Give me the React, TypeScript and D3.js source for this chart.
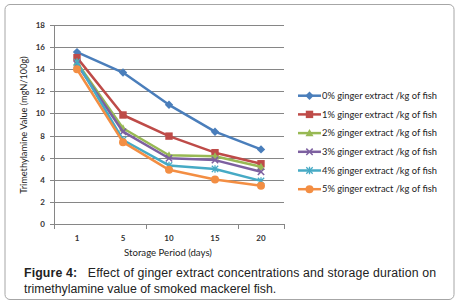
import React from "react";
import * as d3 from "d3";

const days = ["1", "5", "10", "15", "20"];
const seriesNames = [
  "0% ginger extract /kg of fish",
  "1% ginger extract /kg of fish",
  "2% ginger extract /kg of fish",
  "3% ginger extract /kg of fish",
  "4% ginger extract /kg of fish",
  "5% ginger extract /kg of fish",
];
const s0 = [15.55, 13.7, 10.78, 8.35, 6.75];
const s1 = [15.05, 9.86, 7.95, 6.45, 5.45];
const s2 = [14.6, 8.66, 6.22, 6.12, 5.18];
const s3 = [14.45, 8.35, 5.95, 5.78, 4.72];
const s4 = [14.65, 7.6, 5.3, 4.98, 3.9];
const s5 = [14.0, 7.4, 4.9, 4.02, 3.45];
const seriesValues = [s0, s1, s2, s3, s4, s5];
const yTicks = [0, 2, 4, 6, 8, 10, 12, 14, 16, 18];
const colors = ["#4A7EBB", "#BE4B48", "#98B954", "#7D60A0", "#46AAC5", "#F38E43"];
const markers = ["diamond", "square", "triangle", "x", "star", "circle"];

function Marker({ type, x, y, color }: { type: string; x: number; y: number; color: string }) {
  if (type === "diamond") {
    const r = 4.2;
    return <path d={`M${x},${y - r}L${x + r},${y}L${x},${y + r}L${x - r},${y}Z`} fill={color} />;
  }
  if (type === "square") {
    const r = 3.7;
    return <rect x={x - r} y={y - r} width={2 * r} height={2 * r} fill={color} />;
  }
  if (type === "triangle") {
    const r = 4;
    return <path d={`M${x},${y - r}L${x + r},${y + r * 0.8}L${x - r},${y + r * 0.8}Z`} fill={color} />;
  }
  if (type === "x") {
    const r = 3.2;
    return (
      <path d={`M${x - r},${y - r}L${x + r},${y + r}M${x - r},${y + r}L${x + r},${y - r}`} stroke={color} strokeWidth={1.5} />
    );
  }
  if (type === "star") {
    const r = 3.2;
    return (
      <path
        d={`M${x - r},${y - r}L${x + r},${y + r}M${x - r},${y + r}L${x + r},${y - r}M${x},${y - r - 0.5}L${x},${y + r + 0.5}`}
        stroke={color}
        strokeWidth={1.3}
      />
    );
  }
  return <circle cx={x} cy={y} r={4} fill={color} />;
}

export default function App() {
  const W = 457;
  const H = 306;
  const left = 54;
  const right = 284;
  const top = 25;
  const bottom = 224;

  const x = d3.scaleBand<string>().domain(days).range([left, right]);
  const y = d3.scaleLinear().domain([0, 18]).range([bottom, top]);
  const line = d3
    .line<number>()
    .x((_, i) => (x(days[i]) as number) + x.bandwidth() / 2)
    .y((d) => y(d));

  const tickFont = "Lato, 'Open Sans', sans-serif";
  const capFont = "'Liberation Sans', Arial, sans-serif";

  return (
    <svg
      width={W}
      height={H}
      style={{ position: "absolute", left: 0, top: 0 }}
      xmlns="http://www.w3.org/2000/svg"
    >
      <rect x={0} y={0} width={W} height={H} fill="#fff" />
      <rect x={5} y={4.5} width={449} height={295} rx={5} fill="#fff" stroke="#a6a6a6" strokeWidth={1} />

      {yTicks.map((t) => (
        <line key={t} x1={left - 4} x2={right} y1={Math.round(y(t)) + 0.5} y2={Math.round(y(t)) + 0.5} stroke="#868686" strokeWidth={1} />
      ))}
      <line x1={left + 0.5} x2={left + 0.5} y1={top} y2={bottom} stroke="#868686" />
      {[0, 2, 4, 5].map((k) => (
        <line
          key={k}
          x1={Math.round(left + k * x.bandwidth()) + 0.5}
          x2={Math.round(left + k * x.bandwidth()) + 0.5}
          y1={bottom}
          y2={bottom + 5}
          stroke="#868686"
        />
      ))}

      {yTicks.map((t) => (
        <text key={t} x={45} y={y(t) + 3} textAnchor="end" fontSize={8} fontWeight="bold" fill="#333" fontFamily={tickFont}>
          {t}
        </text>
      ))}
      {days.map((d) => (
        <text
          key={d}
          x={(x(d) as number) + x.bandwidth() / 2}
          y={241}
          textAnchor="middle"
          fontSize={8}
          fontWeight="bold"
          fill="#333"
          fontFamily={tickFont}
        >
          {d}
        </text>
      ))}
      <text x={168} y={256} textAnchor="middle" fontSize={9.6} fill="#222" fontFamily={tickFont}>
        Storage Period (days)
      </text>
      <text transform={`translate(27,125) rotate(-90)`} textAnchor="middle" fontSize={9.2} fill="#222" fontFamily={tickFont}>
        Trimethylamine Value (mgN/100g)
      </text>

      {seriesValues.map((vals, si) => (
        <g key={si}>
          <path d={line(vals) || ""} fill="none" stroke={colors[si]} strokeWidth={2.5} strokeLinejoin="round" />
          {vals.map((v, i) => (
            <Marker key={i} type={markers[si]} x={(x(days[i]) as number) + x.bandwidth() / 2} y={y(v)} color={colors[si]} />
          ))}
        </g>
      ))}

      {seriesNames.map((name, i) => {
        const ly = 95.7 + i * 18.7;
        return (
          <g key={name}>
            <line x1={298} x2={321} y1={ly} y2={ly} stroke={colors[i]} strokeWidth={2.5} />
            <Marker type={markers[i]} x={309.5} y={ly} color={colors[i]} />
            <text x={322} y={ly + 3.2} fontSize={9.3} fill="#222" fontFamily={tickFont} textLength={115} lengthAdjust="spacingAndGlyphs">
              {name}
            </text>
          </g>
        );
      })}

      <text x={24} y={277} fontSize={12.3} fill="#222" fontFamily={capFont} textLength={412} lengthAdjust="spacing" style={{ whiteSpace: "pre" }}>
        <tspan fontWeight="bold">Figure 4:</tspan>
        <tspan>{"   Effect of ginger extract concentrations and storage duration on"}</tspan>
      </text>
      <text x={24} y={293} fontSize={12.3} fill="#222" fontFamily={capFont}>
        trimethylamine value of smoked mackerel fish.
      </text>
    </svg>
  );
}
